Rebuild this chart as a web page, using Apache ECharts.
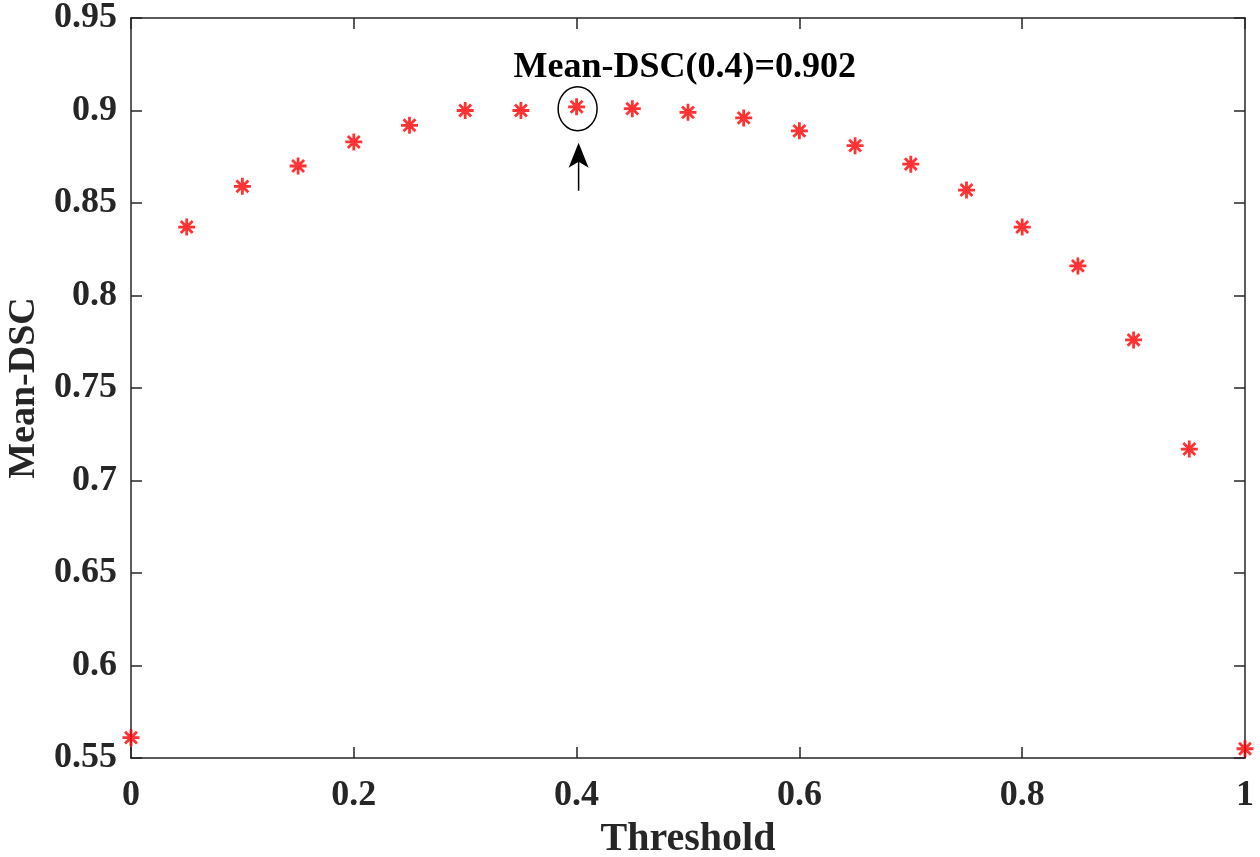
<!DOCTYPE html>
<html>
<head>
<meta charset="utf-8">
<script src="https://cdn.jsdelivr.net/npm/echarts@6/dist/echarts.min.js"></script>
<style>
  html, body { margin: 0; padding: 0; background: #fff; }
  #chart { width: 1260px; height: 857px; }
</style>
</head>
<body>
<div id="chart"></div>
<script>
// 阈值 和 平均DSC
var thresholds = [0, 0.05, 0.1, 0.15, 0.2, 0.25, 0.3, 0.35, 0.4, 0.45, 0.5,
  0.55, 0.6, 0.65, 0.7, 0.75, 0.8, 0.85, 0.9, 0.95, 1];
var meanDsc = [0.561, 0.837, 0.859, 0.870, 0.883, 0.892, 0.900, 0.900, 0.902, 0.901, 0.899,
  0.896, 0.889, 0.881, 0.871, 0.857, 0.837, 0.816, 0.776, 0.717, 0.555];
var peak = [0.4, 0.902];
var xTicks = [0, 0.2, 0.4, 0.6, 0.8, 1];
var yTicks = [0.55, 0.6, 0.65, 0.7, 0.75, 0.8, 0.85, 0.9, 0.95];

var font = "'Liberation Serif', 'Times New Roman', serif";
var ink = "#262626";

var chart = echarts.init(document.getElementById("chart"));

function boxAxis(extra) {
  return Object.assign({
    type: "value",
    axisLine: { show: true, onZero: false, lineStyle: { color: ink, width: 1.5 } },
    axisTick: { show: true, inside: true, length: 11, lineStyle: { color: ink, width: 1.5 } },
    splitLine: { show: false },
  }, extra);
}

var option = {
  backgroundColor: "#fff",
  animation: false,
  grid: { left: 131, right: 15, top: 18, bottom: 99, containLabel: false, outerBoundsMode: "none" },
  xAxis: [
    boxAxis({
      min: xTicks[0], max: xTicks[xTicks.length - 1], interval: 0.2,
      position: "bottom",
      name: "Threshold", nameLocation: "middle", nameGap: 62,
      nameTextStyle: { color: ink, fontFamily: font, fontWeight: "bold", fontSize: 40 },
      axisLabel: { color: ink, fontFamily: font, fontWeight: "bold", fontSize: 36, margin: 20 },
    }),
    boxAxis({
      min: xTicks[0], max: xTicks[xTicks.length - 1], interval: 0.2,
      position: "top", axisLabel: { show: false },
    }),
  ],
  yAxis: [
    boxAxis({
      min: yTicks[0], max: yTicks[yTicks.length - 1], interval: 0.05,
      position: "left",
      name: "Mean-DSC", nameLocation: "middle", nameGap: 84,
      nameTextStyle: { color: ink, fontFamily: font, fontWeight: "bold", fontSize: 38 },
      axisLabel: { color: ink, fontFamily: font, fontWeight: "bold", fontSize: 36, margin: 14 },
    }),
    boxAxis({
      min: yTicks[0], max: yTicks[yTicks.length - 1], interval: 0.05,
      position: "right", axisLabel: { show: false },
    }),
  ],
  series: [
    {
      type: "scatter",
      data: thresholds.map(function (t, i) { return [t, meanDsc[i]]; }),
      // 星号标记
      symbol: "path://M0,-10 L0,10 M-10,0 L10,0 M-7,-7 L7,7 M-7,7 L7,-7",
      symbolSize: 17,
      itemStyle: { color: "rgba(0,0,0,0)", borderColor: "#ff0000", borderWidth: 2.8 },
      z: 3,
    },
    {
      // 标注：圆圈 + 箭头 + 文字
      type: "custom",
      clip: false,
      data: [peak],
      renderItem: function (params, api) {
        var p = api.coord([api.value(0), api.value(1)]);
        var cx = p[0] + 1, cy = p[1] + 2;
        return {
          type: "group",
          children: [
            {
              type: "ellipse",
              shape: { cx: cx, cy: cy, rx: 19.5, ry: 22 },
              style: { fill: null, stroke: "#000", lineWidth: 1.5 },
            },
            {
              type: "line",
              shape: { x1: cx + 1, y1: cy + 82, x2: cx + 1, y2: cy + 50 },
              style: { stroke: "#000", lineWidth: 1.5 },
            },
            {
              type: "polygon",
              shape: {
                points: [
                  [cx + 1, cy + 34], [cx + 11, cy + 59], [cx + 1, cy + 53], [cx - 9, cy + 59],
                ],
              },
              style: { fill: "#000" },
            },
            {
              type: "text",
              style: {
                x: p[0] - 63, y: p[1] - 39,
                text: "Mean-DSC(" + api.value(0) + ")=" + api.value(1).toFixed(3),
                fill: "#000",
                font: "bold 36px " + font,
                textAlign: "left",
                textVerticalAlign: "middle",
              },
            },
          ],
        };
      },
      z: 4,
    },
  ],
};
chart.setOption(option);
</script>
</body>
</html>
